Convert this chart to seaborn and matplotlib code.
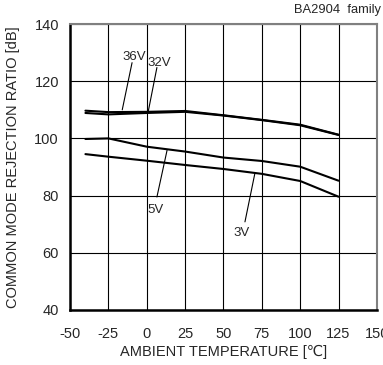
# === IMPORTS ===
import numpy as np
import pandas as pd
import matplotlib.pyplot as plt
import seaborn as sns

# === SETTINGS ===
sns.set_style("white")
plt.rcParams["font.family"] = ["Liberation Sans", "DejaVu Sans"]
plt.rcParams["axes.unicode_minus"] = False

# === DATA ===
temps = [-40, -25, 0, 25, 50, 75, 100, 125]
cmrr_36v = [109.7, 109.2, 109.3, 109.6, 108.1, 106.5, 104.8, 101.3]
cmrr_32v = [108.9, 108.4, 108.9, 109.3, 108.0, 106.4, 104.6, 101.2]
cmrr_5v = [99.8, 100.0, 97.1, 95.4, 93.3, 92.1, 90.1, 85.2]
cmrr_3v = [94.5, 93.6, 92.2, 90.7, 89.3, 87.6, 85.1, 79.6]

series = {"36V": cmrr_36v, "32V": cmrr_32v, "5V": cmrr_5v, "3V": cmrr_3v}

# label text pos, leader start, leader end (data coords)
labels = {
    "36V": ((-8, 128.5), (-9.6, 126.5), (-16, 110.0)),
    "32V": ((8, 126.5), (6.6, 124.8), (0.8, 109.0)),
    "5V": ((6, 75.0), (6.6, 79.5), (13.2, 95.8)),
    "3V": ((62, 67.0), (64, 70.8), (70.4, 87.6)),
}

df = pd.concat(
    [pd.DataFrame({"temp": temps, "cmrr": v, "supply": k}) for k, v in series.items()],
    ignore_index=True,
)

# === PLOT ===
fig = plt.figure(figsize=(3.83, 3.65), dpi=100)
ax = fig.add_axes([0.183, 0.151, 0.801, 0.783])

for name in series:
    sns.lineplot(data=df[df["supply"] == name], x="temp", y="cmrr", ax=ax,
                 color="black", lw=1.5, legend=False)

for name, (txt, p0, p1) in labels.items():
    ax.plot([p0[0], p1[0]], [p0[1], p1[1]], color="black", lw=0.8)
    ax.text(txt[0], txt[1], name, ha="center", va="center", fontsize=9.5)

ax.set_xlim(-50, 150)
ax.set_ylim(40, 140)
ax.set_xticks(range(-50, 151, 25))
ax.set_yticks(range(40, 141, 20))
ax.grid(True, color="black", lw=0.8)
ax.tick_params(axis="x", length=0, pad=12, labelsize=10.5)
ax.tick_params(axis="y", length=0, pad=8, labelsize=10.5)

for side in ["left", "bottom"]:
    ax.spines[side].set_color("black")
    ax.spines[side].set_linewidth(1.8)
for side in ["top", "right"]:
    ax.spines[side].set_color("#808080")
    ax.spines[side].set_linewidth(1.5)

ax.set_xlabel("AMBIENT TEMPERATURE [\u2103]", fontsize=10.5, labelpad=3)
ax.set_ylabel("COMMON MODE REJECTION RATIO [dB]", fontsize=10.5, labelpad=10)
fig.text(0.995, 0.972, "BA2904  family", ha="right", va="center", fontsize=9.3)

plt.savefig("out.png", dpi=100)
